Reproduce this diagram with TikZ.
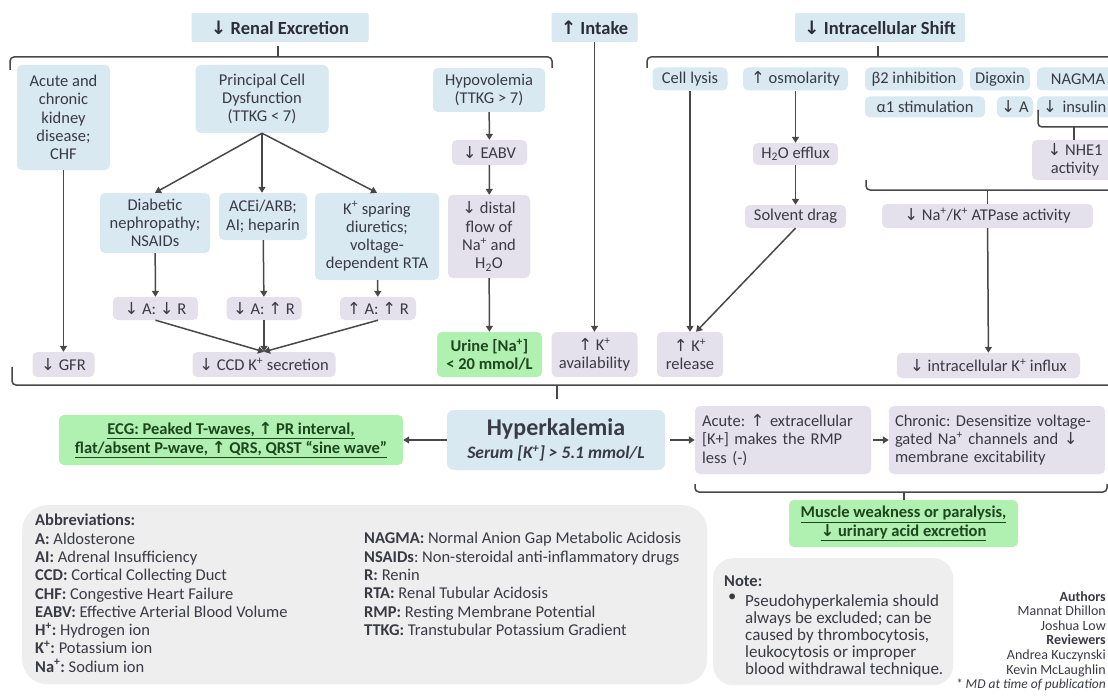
\documentclass[tikz,border=0pt]{standalone}
\usepackage{fontspec}
\setmainfont{Carlito}
\newfontfamily\symf{DejaVu Sans}
\usetikzlibrary{arrows.meta}
\newcommand\ddn{{\symf ↓}}
\newcommand\uup{{\symf ↑}}
\newcommand\sps[1]{\textsuperscript{#1}}
\definecolor{bluef}{RGB}{216,233,241}
\definecolor{purf}{RGB}{228,224,236}
\definecolor{grf}{RGB}{176,240,176}
\definecolor{grayf}{RGB}{238,238,238}
\definecolor{txt}{RGB}{58,58,68}
\definecolor{htxt}{RGB}{45,45,55}
\definecolor{gtxt}{RGB}{30,70,30}
\definecolor{lnc}{RGB}{72,72,72}
\frenchspacing
\tikzset{
  bx/.style={rounded corners=5pt, align=center, inner sep=2pt, text=txt, font=\fontsize{16.5}{18.3}\selectfont},
  bl/.style={bx, fill=bluef},
  pu/.style={bx, fill=purf},
  gr/.style={bx, fill=grf, text=gtxt, font=\bfseries\fontsize{16.5}{18.3}\selectfont},
  hd/.style={bx, fill=bluef, text=htxt, rounded corners=2pt, font=\bfseries\fontsize{18.5}{21}\selectfont},
  sz/.style 2 args={minimum width=#1pt, minimum height=#2pt},
  ln/.style={draw=lnc, line width=1.5pt},
  ar/.style={ln, -{Triangle[length=6pt,width=7pt]}},
  brk/.style={ln, rounded corners=4pt},
  plain/.style={text=txt, inner sep=0pt, align=left, font=\fontsize{16.5}{18.3}\selectfont}
}
\begin{document}
\begin{tikzpicture}[x=1pt,y=-1pt]
\useasboundingbox (0,0) rectangle (1108,698);
\clip (0,0) rectangle (1108,698);
\fill[white] (0,0) rectangle (1108,698);

% headers
\node[hd, sz={177}{29}] (renal) at (280,27.5) {\ddn\ Renal Excretion};
\node[hd, sz={86}{29}] (intake) at (594.5,27.5) {\uup\ Intake};
\node[hd, sz={170}{29}] (intra) at (880,27.5) {\ddn\ Intracellular Shift};

% renal column
\node[bl, sz={93}{105}] (ckd) at (63.5,117.5) {Acute and\\chronic\\kidney\\disease;\\CHF};
\node[bl, sz={133}{68}] (pcd) at (262,99) {Principal Cell\\Dysfunction\\(TTKG < 7)};
\node[bl, sz={112}{44}] (hypo) at (489,90) {Hypovolemia\\(TTKG > 7)};
\node[bl, sz={110}{60}] (diab) at (155,223) {Diabetic\\nephropathy;\\NSAIDs};
\node[bl, sz={88}{47}] (acei) at (263,216.5) {ACEi/ARB;\\AI; heparin};
\node[bl, sz={124}{87}] (ksp) at (377,236.5) {K\sps{+} sparing\\diuretics;\\voltage-\\dependent RTA};
\node[pu, sz={75}{25}] (eabv) at (489.5,152.5) {\ddn\ EABV};
\node[pu, sz={82}{83}] (distal) at (489,236.5) {\ddn\ distal\\flow of\\Na\sps{+} and\\H\textsubscript{2}O};
\node[pu, sz={85}{23}] (dAdR) at (155.5,308.5) {\ddn\ A: \ddn\ R};
\node[pu, sz={75}{23}] (dAuR) at (264,308.5) {\ddn\ A: \uup\ R};
\node[pu, sz={76}{23}] (uAuR) at (378,308.5) {\uup\ A: \uup\ R};
\node[pu, sz={62}{25}] (gfr) at (63.5,364.5) {\ddn\ GFR};
\node[pu, sz={143}{25}] (ccd) at (264,364.5) {\ddn\ CCD K\sps{+} secretion};
\node[gr, sz={105}{45}] (urine) at (489.5,354.5) {Urine [Na\sps{+}]\\< 20 mmol/L};
\node[pu, sz={86}{45}] (avail) at (594.5,354.5) {\uup\ K\sps{+}\\availability};
\node[pu, sz={66}{45}] (rel) at (690,354.5) {\uup\ K\sps{+}\\release};

% intracellular
\node[bl, sz={75}{23}] (cell) at (690,79) {Cell lysis};
\node[bl, sz={105}{23}] (osm) at (795.5,79) {\uup\ osmolarity};
\node[bl, sz={98}{23}] (b2) at (914,79) {β2 inhibition};
\node[bl, sz={60}{23}] (dig) at (1000,79) {Digoxin};
\node[bl, sz={82}{23}] (nagma) at (1078,79) {NAGMA};
\node[bl, sz={120}{21}] (a1) at (925,107) {α1 stimulation};
\node[bl, sz={36}{21}] (dA) at (1015,107) {\ddn\ A};
\node[bl, minimum height=21pt, text width=72pt, inner xsep=6pt, align=left, anchor=west] (ins) at (1037,107) {\ddn\ insulin};
\node[pu, sz={85}{22}] (h2o) at (795.5,154) {H\textsubscript{2}O efflux};
\node[pu, sz={101}{23}] (solv) at (795.5,216.5) {Solvent drag};
\node[pu, sz={86}{40}] (nhe) at (1075,160) {\ddn\ NHE1\\activity};
\node[pu, sz={211}{24}] (atp) at (987.5,216) {\ddn\ Na\sps{+}/K\sps{+} ATPase activity};
\node[pu, sz={183}{25}] (influx) at (988.5,365.5) {\ddn\ intracellular K\sps{+} influx};

% brackets
\draw[brk] (10,70) -- (10,57) -- (552,57) -- (552,68);
\coordinate (rt) at (278,57);
\draw[ln] (rt) -- (278,46);
\draw[brk] (647,68) -- (647,57) -- (1120,57);
\coordinate (it) at (878,57);
\draw[ln] (it) -- (878,46);
\draw[brk] (1038,110) -- (1038,127) -- (1120,127);
\coordinate (nt) at (1074,127);
\draw[ln] (nt) -- (nhe.north -| nt);
\draw[brk] (866,180) -- (866,190) -- (1120,190);
\coordinate (at) at (987.5,190);
\draw[ln] (at) -- (atp.north);
\draw[brk] (12,367) -- (12,385) -- (1120,385);
\coordinate (ht) at (557,385);
\coordinate (hte) at (557,399);
\draw[ln] (ht) -- (hte);

% arrows renal
\draw[ar] (ckd) -- (gfr);
\draw[ar] (pcd.south) -- (diab.north);
\draw[ar] (pcd.south) -- (acei.north -| pcd.south);
\draw[ar] (pcd.south) -- (ksp.north);
\draw[ar] (diab) -- (dAdR);
\draw[ar] (acei) -- (dAuR);
\draw[ar] (ksp) -- (uAuR);
\draw[ar] (dAdR.south) -- (ccd.north);
\draw[ar] (dAuR.south) -- (ccd.north);
\draw[ar] (uAuR.south) -- (ccd.north);
\draw[ar] (hypo) -- (eabv);
\draw[ar] (eabv) -- (distal);
\draw[ar] (distal) -- (urine);
\draw[ar] (intake.south) -- (avail.north);
% arrows intracellular
\draw[ar] (cell.south) -- (rel.north);
\draw[ar] (osm) -- (h2o);
\draw[ar] (h2o) -- (solv);
\draw[ar] (solv.south) -- ([xshift=6pt]rel.north);
\draw[ar] (atp) -- (influx);

% hyperkalemia row
\node[bl, sz={218}{60}, rounded corners=7pt] (hyper) at (556,440) {{\fontsize{24}{28}\selectfont\bfseries Hyperkalemia}\\[4pt]{\fontsize{17.5}{19}\selectfont\bfseries\itshape Serum [K\sps{+}] > 5.1 mmol/L}};
\node[gr, sz={344}{50}] (ecg) at (231,440) {\underline{ECG: Peaked T-waves, \uup\ PR interval,}\\\underline{flat/absent P-wave, \uup\ QRS, QRST “sine wave”}};
\node[pu, minimum height=68pt, text width=162pt, inner xsep=7pt, align=left] (acute) at (783,440) {Acute: \uup\ extracellular\\{[}K+{]} makes the RMP\\less (-)};
\node[pu, minimum height=68pt, text width=204pt, inner xsep=6pt, align=left] (chronic) at (997,440) {Chronic: Desensitize voltage-\\gated Na\sps{+} channels and \ddn\\membrane excitability};
\draw[ar] (hyper) -- (ecg);
\draw[ar, shorten <=5pt] (hyper) -- (acute);
\draw[ar, shorten <=2pt] (acute) -- (chronic);
\draw[brk] (695,484) -- (695,492) -- (1107,492) -- (1107,484);
\node[gr, sz={229}{47}] (musc) at (903.5,523.5) {\underline{Muscle weakness or paralysis,}\\\underline{\ddn\ urinary acid excretion}};
\coordinate (mt) at (904,492);
\draw[ln] (mt) -- (musc.north -| mt);

% abbreviations
\node[fill=grayf, rounded corners=25pt, minimum width=685pt, minimum height=179pt, anchor=north west, inner sep=0pt] (abox) at (22,505) {};
\node[plain, anchor=north west] (abbr1) at (35,514) {\textbf{Abbreviations:}\\\textbf{A:} Aldosterone\\\textbf{AI:} Adrenal Insufficiency\\\textbf{CCD:} Cortical Collecting Duct\\\textbf{CHF:} Congestive Heart Failure\\\textbf{EABV:} Effective Arterial Blood Volume\\\textbf{H\sps{+}:} Hydrogen ion\\\textbf{K\sps{+}:} Potassium ion\\\textbf{Na\sps{+}:} Sodium ion};
\node[plain, anchor=north west] (abbr2) at (364,532.3) {\textbf{NAGMA:} Normal Anion Gap Metabolic Acidosis\\\textbf{NSAIDs}: Non-steroidal anti-inflammatory drugs\\\textbf{R:} Renin\\\textbf{RTA:} Renal Tubular Acidosis\\\textbf{RMP:} Resting Membrane Potential\\\textbf{TTKG:} Transtubular Potassium Gradient};

% note
\node[fill=grayf, rounded corners=20pt, minimum width=240pt, minimum height=127pt, anchor=north west, inner sep=0pt] (nbox) at (713,558) {};
\node[plain, anchor=north west] (ntitle) at (724,576) {\textbf{Note:}};
\node[plain, anchor=north west] (nbul) at (728,594) {•};
\node[plain, anchor=north west, font=\fontsize{17}{17}\selectfont] (ntext) at (745,594) {Pseudohyperkalemia should\\always be excluded; can be\\caused by thrombocytosis,\\leukocytosis or improper\\blood withdrawal technique.};

% authors
\node[plain, anchor=north east, align=right, font=\fontsize{14}{14.6}\selectfont] (auth) at (1106,591) {\textbf{Authors}\\Mannat Dhillon\\Joshua Low\\\textbf{Reviewers}\\Andrea Kuczynski\\Kevin McLaughlin\\{\fontsize{13.5}{14.6}\selectfont\itshape * MD at time of publication}};
\end{tikzpicture}
\end{document}
